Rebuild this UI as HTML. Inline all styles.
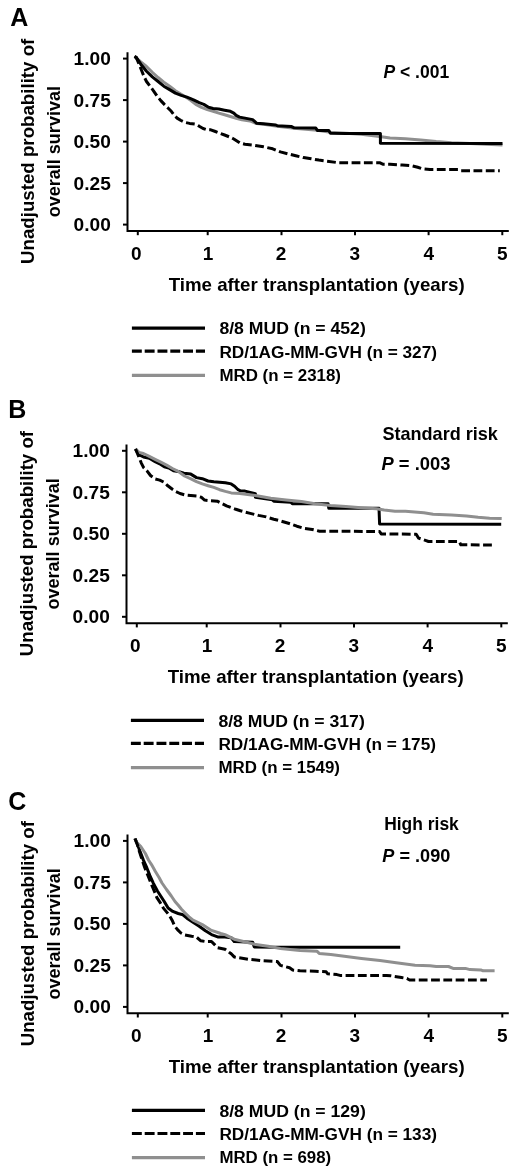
<!DOCTYPE html>
<html><head><meta charset="utf-8"><style>
html,body{margin:0;padding:0;background:#fff;}
body{width:520px;height:1173px;overflow:hidden;}
svg{display:block;will-change:transform;}
text{font-family:"Liberation Sans",sans-serif;font-weight:bold;fill:#000;}
.ax{font-size:19px;}
.lg{font-size:16px;}
.lt{font-size:25px;}
.k{stroke:#000;stroke-width:2;}
</style></head><body>
<svg width="520" height="1173" viewBox="0 0 520 1173">
<rect width="520" height="1173" fill="#fff"/>
<g transform="translate(0,0.0)">
<text x="10.2" y="26.0" class="lt">A</text>
<g transform="translate(0,0)">
<text class="ax" transform="translate(34.2,264) rotate(-90)" textLength="225.3" lengthAdjust="spacingAndGlyphs">Unadjusted probability of</text>
<text class="ax" transform="translate(60.2,217.3) rotate(-90)" textLength="131.3" lengthAdjust="spacingAndGlyphs">overall survival</text>
</g>
<text class="ax" x="73.6" y="65.2" textLength="37.2" lengthAdjust="spacingAndGlyphs">1.00</text>
<line x1="123" y1="58.6" x2="127.5" y2="58.6" class="k"/>
<text class="ax" x="73.6" y="106.7" textLength="37.2" lengthAdjust="spacingAndGlyphs">0.75</text>
<line x1="123" y1="100.1" x2="127.5" y2="100.1" class="k"/>
<text class="ax" x="73.6" y="148.2" textLength="37.2" lengthAdjust="spacingAndGlyphs">0.50</text>
<line x1="123" y1="141.6" x2="127.5" y2="141.6" class="k"/>
<text class="ax" x="73.6" y="189.7" textLength="37.2" lengthAdjust="spacingAndGlyphs">0.25</text>
<line x1="123" y1="183.1" x2="127.5" y2="183.1" class="k"/>
<text class="ax" x="73.6" y="231.2" textLength="37.2" lengthAdjust="spacingAndGlyphs">0.00</text>
<line x1="123" y1="224.6" x2="127.5" y2="224.6" class="k"/>
<polyline points="127.5,52.2 127.5,231 508.8,231" fill="none" class="k"/>
<line x1="137.8" y1="231" x2="137.8" y2="235.2" class="k"/>
<line x1="207.7" y1="231" x2="207.7" y2="235.2" class="k"/>
<line x1="281.5" y1="231" x2="281.5" y2="235.2" class="k"/>
<line x1="355" y1="231" x2="355" y2="235.2" class="k"/>
<line x1="428.6" y1="231" x2="428.6" y2="235.2" class="k"/>
<line x1="502.3" y1="231" x2="502.3" y2="235.2" class="k"/>
<text class="ax" x="136.2" y="260" text-anchor="middle">0</text>
<text class="ax" x="208.1" y="260" text-anchor="middle">1</text>
<text class="ax" x="281" y="260" text-anchor="middle">2</text>
<text class="ax" x="354.7" y="260" text-anchor="middle">3</text>
<text class="ax" x="428.8" y="260" text-anchor="middle">4</text>
<text class="ax" x="502.2" y="260" text-anchor="middle">5</text>
<text class="ax" x="168.7" y="290.7" textLength="296" lengthAdjust="spacingAndGlyphs">Time after transplantation (years)</text>
<text class="ax" x="383.5" y="78.0" textLength="65.7" lengthAdjust="spacingAndGlyphs"><tspan font-style="italic">P</tspan> < .001</text>
</g>
<polyline points="134.5,56.5 140.8,61.9 146.5,66.5 152.3,72.3 158.1,77.5 163.8,82.1 169.6,86.2 175.4,90.8 181.2,94.2 186.9,97.7 191.0,100.5 195.8,104.4 201.5,107.3 207.3,109.6 213.1,111.3 218.8,113.1 224.6,114.8 230.4,116.5 236.2,118.3 241.9,119.8 250.0,120.9 256.5,123.6 263.5,124.3 277.3,126.2 294.2,128.2 317.3,130.2 330.4,132.3 361.2,134.2 379.6,136.5 390.0,138.1 405.4,138.8 420.8,140.1 436.2,141.6 451.5,142.7 470.0,143.6 502.5,145.0" fill="none" stroke="#8f8f8f" stroke-width="3" stroke-linejoin="round"/>
<polyline points="134.5,56.5 136.2,57.3 140.8,64.2 146.5,71.2 152.3,76.9 158.1,81.5 163.8,86.2 169.6,89.6 175.4,93.1 181.2,95.4 186.9,97.1 190.0,98.3 194.6,100.4 199.2,102.7 203.8,104.4 208.5,107.3 213.1,108.5 218.8,109.0 224.6,110.2 230.4,111.3 233.8,113.1 236.2,115.4 239.6,117.1 245.0,118.1 252.7,119.6 256.5,123.2 263.5,123.8 275.8,125.0 277.3,125.8 291.2,126.5 294.2,127.8 315.8,128.1 317.3,130.4 328.8,130.4 330.4,133.2 345.8,133.5 380.4,133.5 380.4,143.2 502.5,143.4" fill="none" stroke="#000" stroke-width="3" stroke-linejoin="round"/>
<polyline points="134.5,56.5 136.2,57.3 139.6,65.4 141.9,71.2 144.2,76.9 146.5,81.5 150.0,86.2 153.5,90.8 157.0,96.0 160.8,100.6 164.6,104.6 168.5,108.5 171.3,111.3 174.2,115.2 177.1,118.1 181.0,120.5 184.8,122.4 189.6,123.4 195.4,124.2 199.2,126.2 203.1,128.5 207.3,129.8 210.8,129.8 215.4,131.5 220.0,133.3 224.6,135.0 230.4,137.3 233.8,139.0 240.0,143.0 245.0,144.2 254.2,145.3 263.5,146.8 272.7,148.8 280.4,151.9 288.1,153.9 295.8,155.8 303.5,157.6 311.2,158.8 318.8,160.1 324.2,160.8 338.1,162.7 379.6,162.7 382.7,164.2 390.0,164.2 402.3,165.0 411.5,165.8 417.7,167.3 422.3,168.8 430.0,169.6 458.0,169.6 460.8,170.8 499.8,170.8" fill="none" stroke="#000" stroke-width="3" stroke-dasharray="8.8 3.5" stroke-linejoin="round"/>
<g transform="translate(0,0.0)">
<line x1="131.9" y1="328.1" x2="205" y2="328.1" stroke="#000" stroke-width="3.2"/>
<line x1="131.9" y1="351.2" x2="205" y2="351.2" stroke="#000" stroke-width="3.2" stroke-dasharray="9.9 2.9"/>
<line x1="131.9" y1="375.4" x2="205" y2="375.4" stroke="#8f8f8f" stroke-width="3.2"/>
<text class="lg" x="219.4" y="334.4" textLength="146.4" lengthAdjust="spacingAndGlyphs">8/8 MUD (n = 452)</text>
<text class="lg" x="219.4" y="358.1" textLength="217.6" lengthAdjust="spacingAndGlyphs">RD/1AG-MM-GVH (n = 327)</text>
<text class="lg" x="219.4" y="381" textLength="121.6" lengthAdjust="spacingAndGlyphs">MRD (n = 2318)</text>
</g>
<g transform="translate(-1,392.2)">
<text x="9.3" y="25.9" class="lt">B</text>
<g transform="translate(0,0)">
<text class="ax" transform="translate(34.2,264) rotate(-90)" textLength="225.3" lengthAdjust="spacingAndGlyphs">Unadjusted probability of</text>
<text class="ax" transform="translate(60.2,217.3) rotate(-90)" textLength="131.3" lengthAdjust="spacingAndGlyphs">overall survival</text>
</g>
<text class="ax" x="73.6" y="65.2" textLength="37.2" lengthAdjust="spacingAndGlyphs">1.00</text>
<line x1="123" y1="58.6" x2="127.5" y2="58.6" class="k"/>
<text class="ax" x="73.6" y="106.7" textLength="37.2" lengthAdjust="spacingAndGlyphs">0.75</text>
<line x1="123" y1="100.1" x2="127.5" y2="100.1" class="k"/>
<text class="ax" x="73.6" y="148.2" textLength="37.2" lengthAdjust="spacingAndGlyphs">0.50</text>
<line x1="123" y1="141.6" x2="127.5" y2="141.6" class="k"/>
<text class="ax" x="73.6" y="189.7" textLength="37.2" lengthAdjust="spacingAndGlyphs">0.25</text>
<line x1="123" y1="183.1" x2="127.5" y2="183.1" class="k"/>
<text class="ax" x="73.6" y="231.2" textLength="37.2" lengthAdjust="spacingAndGlyphs">0.00</text>
<line x1="123" y1="224.6" x2="127.5" y2="224.6" class="k"/>
<polyline points="127.5,52.2 127.5,231 508.8,231" fill="none" class="k"/>
<line x1="137.8" y1="231" x2="137.8" y2="235.2" class="k"/>
<line x1="207.7" y1="231" x2="207.7" y2="235.2" class="k"/>
<line x1="281.5" y1="231" x2="281.5" y2="235.2" class="k"/>
<line x1="355" y1="231" x2="355" y2="235.2" class="k"/>
<line x1="428.6" y1="231" x2="428.6" y2="235.2" class="k"/>
<line x1="502.3" y1="231" x2="502.3" y2="235.2" class="k"/>
<text class="ax" x="136.2" y="260" text-anchor="middle">0</text>
<text class="ax" x="208.1" y="260" text-anchor="middle">1</text>
<text class="ax" x="281" y="260" text-anchor="middle">2</text>
<text class="ax" x="354.7" y="260" text-anchor="middle">3</text>
<text class="ax" x="428.8" y="260" text-anchor="middle">4</text>
<text class="ax" x="502.2" y="260" text-anchor="middle">5</text>
<text class="ax" x="168.7" y="290.7" textLength="296" lengthAdjust="spacingAndGlyphs">Time after transplantation (years)</text>
<text class="ax" x="383.4" y="47.5" textLength="115.5" lengthAdjust="spacingAndGlyphs">Standard risk</text>
<text class="ax" x="382.5" y="77.8" textLength="68.9" lengthAdjust="spacingAndGlyphs"><tspan font-style="italic">P</tspan> = .003</text>
</g>
<polyline points="135.5,448.9 138.9,454.7 143.5,457.0 149.3,458.2 155.1,461.6 160.8,464.5 164.3,466.8 168.9,468.0 173.5,470.8 178.2,471.4 183.9,473.2 190.8,474.1 196.5,477.6 202.3,478.7 208.1,481.0 213.8,481.8 219.6,482.2 225.4,482.8 231.2,483.9 234.6,486.2 238.1,489.7 240.4,490.8 245.0,491.1 255.4,493.8 255.4,497.2 272.3,499.7 273.8,501.2 290.8,502.3 292.3,503.8 328.1,503.8 328.8,508.2 379.0,508.2 379.6,524.0 501.2,524.3" fill="none" stroke="#000" stroke-width="3" stroke-linejoin="round"/>
<polyline points="135.5,448.9 138.9,452.4 143.5,453.5 149.3,456.4 155.1,459.3 160.8,462.2 166.6,465.1 172.4,468.5 178.2,471.4 184.5,476.0 191.5,479.1 196.5,481.6 202.3,483.9 208.1,485.7 213.8,487.4 219.6,489.7 225.4,491.4 231.2,492.9 240.0,493.6 255.4,495.6 270.8,498.2 286.2,500.0 301.5,501.5 315.0,503.8 330.4,505.4 345.8,506.6 361.2,507.7 376.5,508.8 384.2,510.0 395.0,511.3 405.4,511.2 414.6,511.9 423.8,512.7 433.1,514.2 451.5,515.0 466.5,515.9 478.1,517.3 489.6,518.2 501.7,518.5" fill="none" stroke="#8f8f8f" stroke-width="3" stroke-linejoin="round"/>
<polyline points="135.5,448.9 138.9,457.0 141.2,462.8 143.5,467.4 147.0,470.8 150.5,475.5 155.1,478.9 159.7,480.1 164.3,482.4 167.8,485.8 172.4,489.3 175.8,491.6 180.0,493.5 185.0,494.9 190.8,495.5 196.5,496.0 201.2,497.2 204.6,500.1 210.4,500.7 217.3,501.2 221.9,503.5 226.5,505.8 231.2,507.6 235.8,509.3 240.4,510.8 249.2,513.1 258.5,515.4 266.2,516.9 273.8,519.2 281.5,521.2 289.2,523.5 296.9,526.2 304.6,528.5 312.3,529.5 319.6,531.2 379.6,531.5 381.2,533.9 416.2,534.2 418.5,538.1 425.4,540.4 428.5,541.5 459.2,541.5 460.8,544.8 495.4,545.0" fill="none" stroke="#000" stroke-width="3" stroke-dasharray="8.8 3.5" stroke-linejoin="round"/>
<g transform="translate(-1,392.2)">
<line x1="131.9" y1="328.1" x2="205" y2="328.1" stroke="#000" stroke-width="3.2"/>
<line x1="131.9" y1="351.2" x2="205" y2="351.2" stroke="#000" stroke-width="3.2" stroke-dasharray="9.9 2.9"/>
<line x1="131.9" y1="375.4" x2="205" y2="375.4" stroke="#8f8f8f" stroke-width="3.2"/>
<text class="lg" x="219.4" y="334.4" textLength="146.4" lengthAdjust="spacingAndGlyphs">8/8 MUD (n = 317)</text>
<text class="lg" x="219.4" y="358.1" textLength="217.6" lengthAdjust="spacingAndGlyphs">RD/1AG-MM-GVH (n = 175)</text>
<text class="lg" x="219.4" y="381" textLength="121.6" lengthAdjust="spacingAndGlyphs">MRD (n = 1549)</text>
</g>
<g transform="translate(0,782.3)">
<text x="8.2" y="28.2" class="lt">C</text>
<g transform="translate(0,0)">
<text class="ax" transform="translate(34.2,264) rotate(-90)" textLength="225.3" lengthAdjust="spacingAndGlyphs">Unadjusted probability of</text>
<text class="ax" transform="translate(60.2,217.3) rotate(-90)" textLength="131.3" lengthAdjust="spacingAndGlyphs">overall survival</text>
</g>
<text class="ax" x="73.6" y="65.2" textLength="37.2" lengthAdjust="spacingAndGlyphs">1.00</text>
<line x1="123" y1="58.6" x2="127.5" y2="58.6" class="k"/>
<text class="ax" x="73.6" y="106.7" textLength="37.2" lengthAdjust="spacingAndGlyphs">0.75</text>
<line x1="123" y1="100.1" x2="127.5" y2="100.1" class="k"/>
<text class="ax" x="73.6" y="148.2" textLength="37.2" lengthAdjust="spacingAndGlyphs">0.50</text>
<line x1="123" y1="141.6" x2="127.5" y2="141.6" class="k"/>
<text class="ax" x="73.6" y="189.7" textLength="37.2" lengthAdjust="spacingAndGlyphs">0.25</text>
<line x1="123" y1="183.1" x2="127.5" y2="183.1" class="k"/>
<text class="ax" x="73.6" y="231.2" textLength="37.2" lengthAdjust="spacingAndGlyphs">0.00</text>
<line x1="123" y1="224.6" x2="127.5" y2="224.6" class="k"/>
<polyline points="127.5,52.2 127.5,231 508.8,231" fill="none" class="k"/>
<line x1="137.8" y1="231" x2="137.8" y2="235.2" class="k"/>
<line x1="207.7" y1="231" x2="207.7" y2="235.2" class="k"/>
<line x1="281.5" y1="231" x2="281.5" y2="235.2" class="k"/>
<line x1="355" y1="231" x2="355" y2="235.2" class="k"/>
<line x1="428.6" y1="231" x2="428.6" y2="235.2" class="k"/>
<line x1="502.3" y1="231" x2="502.3" y2="235.2" class="k"/>
<text class="ax" x="136.2" y="260" text-anchor="middle">0</text>
<text class="ax" x="208.1" y="260" text-anchor="middle">1</text>
<text class="ax" x="281" y="260" text-anchor="middle">2</text>
<text class="ax" x="354.7" y="260" text-anchor="middle">3</text>
<text class="ax" x="428.8" y="260" text-anchor="middle">4</text>
<text class="ax" x="502.2" y="260" text-anchor="middle">5</text>
<text class="ax" x="168.7" y="290.7" textLength="296" lengthAdjust="spacingAndGlyphs">Time after transplantation (years)</text>
<text class="ax" x="384.2" y="47.7" textLength="74.6" lengthAdjust="spacingAndGlyphs">High risk</text>
<text class="ax" x="382.3" y="79.7" textLength="68.0" lengthAdjust="spacingAndGlyphs"><tspan font-style="italic">P</tspan> = .090</text>
</g>
<polyline points="135.0,838.5 137.7,845.0 140.2,851.9 143.5,860.4 146.8,867.7 149.8,875.4 153.3,883.1 157.3,890.8 161.0,896.5 164.1,901.3 168.1,908.1 172.8,911.4 178.2,913.5 182.9,914.8 186.9,918.2 193.0,922.2 199.2,926.2 205.4,930.8 211.5,934.6 217.7,936.9 225.0,936.9 231.2,937.7 234.2,941.5 252.7,942.3 254.2,946.9 278.8,947.3 400.2,947.3" fill="none" stroke="#000" stroke-width="3" stroke-linejoin="round"/>
<polyline points="135.0,838.5 136.2,841.9 140.8,846.5 145.4,853.5 148.5,860.0 151.5,864.6 155.4,871.5 159.2,877.7 162.0,883.0 166.5,889.5 171.3,896.0 175.0,901.5 178.5,905.5 181.5,909.2 184.9,912.8 189.0,916.8 193.0,920.2 202.3,924.6 211.5,930.4 220.8,933.5 225.0,934.6 234.2,939.2 243.5,941.5 255.8,944.6 268.1,946.2 280.4,948.5 300.0,950.5 316.9,951.2 319.2,953.4 330.8,954.6 346.2,956.5 361.5,958.5 380.0,960.6 396.2,962.8 415.0,965.2 430.0,965.8 436.2,966.5 448.5,966.5 453.1,968.4 465.4,968.4 470.0,969.6 480.8,969.9 483.1,970.8 494.6,970.8" fill="none" stroke="#8f8f8f" stroke-width="3" stroke-linejoin="round"/>
<polyline points="135.0,838.5 137.5,845.0 139.5,851.9 142.3,860.4 144.8,867.7 147.9,875.4 150.9,883.1 154.6,891.9 156.9,897.7 160.7,903.4 163.4,908.1 166.7,912.1 169.4,915.5 172.1,920.2 174.8,926.2 177.5,929.6 180.9,933.0 184.9,935.0 191.6,936.3 196.2,936.9 200.8,940.8 205.4,941.5 211.5,941.5 214.6,944.6 217.7,947.7 225.0,949.2 231.2,953.8 234.2,956.9 248.1,959.2 263.5,960.8 277.3,961.5 280.4,965.4 289.6,967.7 292.7,970.0 300.0,970.8 315.4,971.2 326.2,971.8 327.7,973.8 336.9,974.6 340.0,975.4 386.5,975.4 390.8,975.8 401.5,977.5 406.9,978.5 409.6,980.0 486.9,980.1" fill="none" stroke="#000" stroke-width="3" stroke-dasharray="8.8 3.5" stroke-linejoin="round"/>
<g transform="translate(0,782.3)">
<line x1="131.9" y1="328.1" x2="205" y2="328.1" stroke="#000" stroke-width="3.2"/>
<line x1="131.9" y1="351.2" x2="205" y2="351.2" stroke="#000" stroke-width="3.2" stroke-dasharray="9.9 2.9"/>
<line x1="131.9" y1="375.4" x2="205" y2="375.4" stroke="#8f8f8f" stroke-width="3.2"/>
<text class="lg" x="219.4" y="334.4" textLength="146.4" lengthAdjust="spacingAndGlyphs">8/8 MUD (n = 129)</text>
<text class="lg" x="219.4" y="358.1" textLength="217.6" lengthAdjust="spacingAndGlyphs">RD/1AG-MM-GVH (n = 133)</text>
<text class="lg" x="219.4" y="381" textLength="111.8" lengthAdjust="spacingAndGlyphs">MRD (n = 698)</text>
</g>
</svg>
</body></html>
